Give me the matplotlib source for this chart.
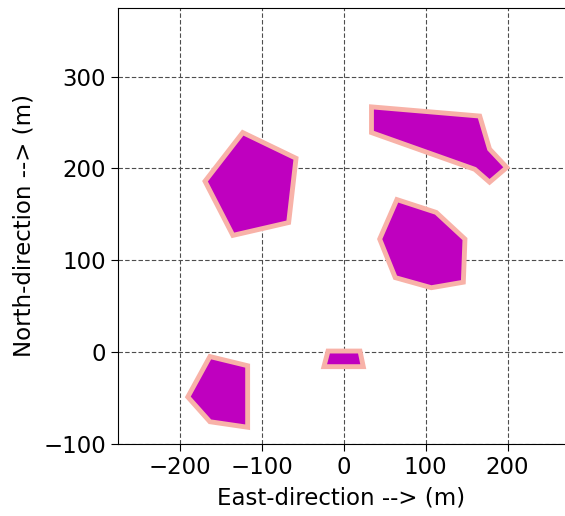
import matplotlib.pyplot as plt
from matplotlib.patches import Polygon

# obstacle outlines (x east, y north) in metres
obst_a_x = [-123, -58, -67, -135, -169]
obst_a_y = [239, 211, 141, 127, 186]

obst_b_x = [34, 166, 178, 199, 178, 160, 34]
obst_b_y = [267, 257, 221, 201, 185, 199, 239]

obst_c_x = [65, 113, 148, 146, 107, 63, 44]
obst_c_y = [166, 152, 123, 76, 70, 81, 123]

obst_d_x = [-163, -117, -117, -163, -190]
obst_d_y = [-5, -15, -82, -76, -49]

obst_e_x = [-19, 20, 24, -24]
obst_e_y = [1, 1, -16, -16]

obstacles = [(obst_a_x, obst_a_y), (obst_b_x, obst_b_y), (obst_c_x, obst_c_y),
             (obst_d_x, obst_d_y), (obst_e_x, obst_e_y)]

fig = plt.figure(figsize=(5.65, 5.16), dpi=100)
ax = fig.add_axes([0.209, 0.140, 0.791, 0.845])

for xs, ys in obstacles:
    poly = Polygon(list(zip(xs, ys)), closed=True, facecolor='m', edgecolor='#f8b2a8', linewidth=3.5)
    ax.add_patch(poly)

ax.set_xlim(-275, 270)
ax.set_ylim(-100, 375)
ax.set_xticks([-200, -100, 0, 100, 200])
ax.set_yticks([-100, 0, 100, 200, 300])
ax.grid(True, color='0.3', linestyle=(0, (4, 2)), linewidth=0.8)
ax.set_axisbelow(True)
ax.spines['right'].set_visible(False)
ax.tick_params(labelsize=16.5, length=5)
ax.set_xlabel('East-direction --> (m)', fontsize=16.5, labelpad=6)
ax.set_ylabel('North-direction --> (m)', fontsize=16.5, labelpad=6)

fig.savefig('out.png', dpi=100)
